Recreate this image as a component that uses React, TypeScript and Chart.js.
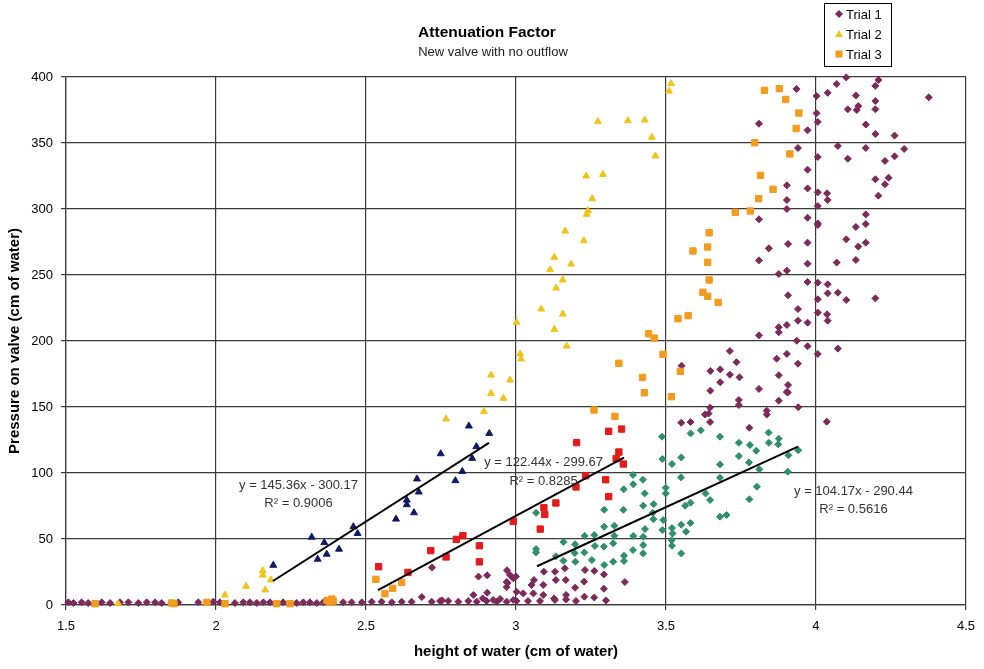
import { useEffect, useRef } from "react";
import { Chart, registerables } from "chart.js";

Chart.register(...registerables);

type Pt = [number, number];

// Trial 1 (purple diamonds) - points not used in the fit
const trial1: Pt[] = [
  [1.508, 2], [1.525, 1.5], [1.552, 2], [1.574, 1.5], [1.619, 2], [1.647, 1.5], [1.68, 2], [1.708, 2],
  [1.741, 1.5], [1.769, 2], [1.797, 2], [1.819, 1.5], [1.874, 2], [1.941, 2], [1.991, 2.5], [2.013, 2],
  [2.063, 1.5], [2.091, 2], [2.113, 2], [2.136, 1.5], [2.158, 2], [2.18, 2], [2.224, 2], [2.269, 1.5],
  [2.291, 2], [2.313, 2], [2.336, 1.5], [2.358, 2], [2.424, 2], [2.452, 2], [2.486, 2], [2.519, 2.5],
  [2.552, 2.5], [2.586, 2], [2.619, 2.5], [2.652, 2.5], [2.686, 6], [2.719, 2.5], [2.747, 3], [2.774, 3],
  [2.808, 2.5], [2.841, 3], [2.869, 2.5], [2.902, 3], [2.936, 2.5], [2.969, 2.5], [3.002, 3],
  [2.72, 28.5], [2.875, 21.5], [2.904, 22.5], [2.97, 26.3], [2.969, 17.4], [2.969, 13.6], [2.858, 7.6],
  [2.904, 9.3], [2.889, 5], [2.924, 3.8], [2.754, 3.5], [2.991, 20.2], [3.0, 21.5], [2.972, 16.7],
  [2.947, 4.6], [3.093, 25.2], [3.06, 18.9], [3.091, 15.2], [3.13, 25.2], [3.133, 18.9], [3.163, 27.8],
  [3.166, 18.9], [3.23, 26.5], [3.261, 25.8], [3.293, 23.2], [3.227, 17.7], [3.197, 13.1], [3.293, 12.3],
  [3.363, 17.4], [3.058, 8.8], [3.091, 7.6], [3.024, 8.8], [3.127, 5], [3.167, 4.2], [3.228, 6.3],
  [3.261, 5.7], [3.002, 10], [2.991, 3.8], [3.052, 15.2], [3.13, 3.8], [3.167, 7.6], [3.04, 3], [3.08, 3],
  [3.2, 3], [3.3, 3.5], [2.98, 22.7],
  [3.647, 149.5], [3.642, 145], [3.63, 144.3], [3.647, 138.6], [3.551, 138.1], [3.582, 138.6],
  [3.743, 155.3], [3.743, 151.5], [3.876, 154.8], [3.941, 149.8], [3.906, 161], [3.836, 147.2],
  [3.836, 144.3], [3.778, 134.3], [4.036, 138.9],
  [3.935, 391], [4.002, 385.6], [4.039, 388], [4.069, 394.7], [4.101, 399.7], [4.208, 397.7], [4.198, 393.3],
  [4.133, 386], [4.106, 375.5], [4.141, 378], [4.136, 375], [4.198, 381.8], [4.198, 375.5], [4.376, 384.6],
  [4.002, 372.5], [4.006, 366], [3.972, 359.6], [3.81, 364.6], [4.166, 364], [4.198, 356.8], [4.262, 355.6],
  [3.94, 346.2], [4.073, 347.7], [4.166, 346.2], [4.294, 345.5], [4.006, 339.4], [4.106, 338.1], [4.23, 336.4],
  [4.262, 339.9], [3.972, 329.8], [4.198, 322.5], [4.242, 323.7], [4.23, 318.7], [4.208, 310.1], [3.903, 317.9],
  [3.972, 315.6], [4.006, 312.6], [4.037, 311.9], [4.039, 306.8], [3.903, 306.8], [3.903, 300], [4.006, 302.3],
  [3.81, 292.2], [3.972, 293.4], [4.006, 289.1], [4.006, 287.9], [4.166, 295.9], [4.133, 286.4], [4.166, 288.6],
  [4.101, 277], [4.141, 271.5], [4.166, 274.5], [3.843, 270.2], [3.907, 273.5], [3.972, 274.5], [3.81, 261.1],
  [4.069, 259.4], [4.133, 261.4], [3.972, 258.6], [3.903, 253.3], [3.876, 250.7], [3.972, 244.7], [4.006, 244.2],
  [4.039, 242.9], [3.907, 234.6], [4.006, 231.6], [4.039, 236.1], [4.073, 236.6], [4.101, 231.1], [4.198, 232.3],
  [3.94, 224.2], [4.006, 221.5], [4.037, 220.2], [4.039, 215.4], [3.94, 215.4], [3.972, 213.9], [3.903, 212.1],
  [3.876, 210.4], [3.876, 206.6], [3.81, 204.3], [3.936, 200.2], [3.972, 196], [4.006, 190.2], [4.073, 194.2],
  [3.903, 190.2], [3.94, 182.8], [3.869, 186.6], [3.713, 192.4], [3.735, 183.9], [3.552, 181.3], [3.648, 177.3],
  [3.681, 178.5], [3.713, 174.5], [3.745, 172.5], [3.681, 168.7], [3.876, 174], [3.907, 166.7], [3.903, 161.4],
  [3.81, 163.7], [3.648, 162.4],
];

// Trial 2 (yellow triangles)
const trial2: Pt[] = [
  [1.674, 1], [2.03, 7.6], [2.1, 14.2], [2.156, 26], [2.156, 22.7], [2.164, 11.4], [2.183, 19],
  [2.767, 140.9], [2.893, 146.5], [2.917, 160.3], [2.958, 156.6], [2.917, 174.2], [2.98, 170.4],
  [3.017, 186.4], [3.014, 190.2], [3.002, 214.2], [3.169, 196.2], [3.128, 208.8], [3.156, 220.4],
  [3.084, 224.2], [3.134, 240.2], [3.156, 246.2], [3.114, 254], [3.184, 258.3], [3.128, 263.4],
  [3.226, 276], [3.164, 283.3], [3.236, 296], [3.24, 298.7], [3.254, 307.8], [3.234, 325], [3.29, 326.2],
  [3.273, 366.2], [3.373, 366.9], [3.429, 367.4], [3.453, 354.3], [3.465, 340.2], [3.51, 389.3], [3.517, 395],
];

// Trial 3 (orange squares)
const trial3: Pt[] = [
  [1.597, 1], [1.852, 1.5], [1.86, 1], [1.969, 2], [2.03, 1], [2.202, 1], [2.247, 1], [2.37, 3.5],
  [2.38, 2], [2.391, 3], [2.386, 4.5],
  [2.533, 19.4], [2.563, 8.6], [2.589, 12.6], [2.619, 17.2],
  [3.26, 147.7], [3.33, 142.9], [3.343, 183.1], [3.422, 172.4], [3.428, 160.8], [3.518, 157.8],
  [3.49, 189.9], [3.548, 177], [3.442, 205.5], [3.461, 202.2], [3.54, 216.9], [3.574, 219.2],
  [3.623, 236.9], [3.639, 233.9], [3.674, 229.2], [3.644, 246.2], [3.639, 259.6], [3.59, 268.2],
  [3.639, 271.2], [3.644, 282], [3.731, 297.5], [3.781, 298.5], [3.809, 307.8], [3.857, 314.9],
  [3.815, 325.5], [3.913, 341.7], [3.796, 350.2], [3.934, 361], [3.943, 372.7], [3.899, 383],
  [3.828, 389.9], [3.878, 391.2],
];

// Points used for each trend line
const trial2Fit: Pt[] = [
  [2.191, 30.1], [2.319, 51.4], [2.339, 34.7], [2.361, 47.3], [2.369, 38.5], [2.41, 42.3], [2.458, 59.3],
  [2.472, 54.2], [2.6, 65.1], [2.636, 79.5], [2.636, 76], [2.66, 69.9], [2.67, 95.5], [2.676, 85.6],
  [2.749, 114.6], [2.798, 94.2], [2.821, 101.2], [2.843, 135.6], [2.868, 120], [2.854, 111.1], [2.911, 130],
];

const trial3Fit: Pt[] = [
  [2.542, 29], [2.64, 24.7], [2.716, 41.2], [2.767, 36.4], [2.801, 49.7], [2.823, 52.5], [2.878, 44.9],
  [2.878, 32.7], [2.991, 63.3], [3.081, 57.5], [3.093, 73.7], [3.096, 68.6], [3.133, 77.3], [3.2, 89.4],
  [3.232, 97.9], [3.202, 123], [3.299, 94.9], [3.309, 82.1], [3.309, 131.6], [3.352, 133.3], [3.343, 115.9],
  [3.334, 110.9], [3.358, 106.8],
];

const trial1Fit: Pt[] = [
  [3.487, 127.5], [3.488, 110.6], [3.52, 106.8], [3.551, 111.8], [3.582, 130], [3.616, 132.3], [3.68, 127.5],
  [3.743, 122.9], [3.78, 121.2], [3.801, 116.9], [3.842, 130.6], [3.843, 122.9], [3.876, 126], [3.874, 121.7],
  [3.908, 113.4], [3.941, 117.2], [3.906, 101], [3.68, 106.5], [3.743, 112.8], [3.777, 108], [3.811, 102.8],
  [3.803, 89.6], [3.778, 80.1], [3.68, 96.4], [3.632, 84.5], [3.647, 79.5], [3.55, 96.7], [3.499, 88.8],
  [3.499, 84.5], [3.39, 98.5], [3.423, 94.9], [3.391, 91.4], [3.359, 87.6], [3.429, 84.5], [3.424, 75.2],
  [3.358, 72.1], [3.294, 72.1], [3.067, 69.8], [3.564, 75.2], [3.582, 77.5], [3.459, 76.4], [3.456, 69.8],
  [3.458, 65], [3.491, 64.3], [3.488, 56.8], [3.52, 58.3], [3.522, 54.2], [3.551, 60.8], [3.567, 55.5],
  [3.582, 62.1], [3.68, 66.9], [3.702, 68.2], [3.43, 57.5], [3.391, 52.3], [3.424, 51.7], [3.424, 45.4],
  [3.424, 39.1], [3.39, 41.6], [3.36, 37.3], [3.36, 33.3], [3.328, 60.1], [3.328, 52.5], [3.324, 46.7],
  [3.294, 59.3], [3.261, 53], [3.293, 44.2], [3.294, 30.3], [3.324, 32.8], [3.229, 52.3], [3.197, 46],
  [3.228, 39.8], [3.196, 39.3], [3.198, 32.8], [3.158, 47.8], [3.158, 33.6], [3.133, 36.9], [3.067, 42.4],
  [3.067, 39.8], [3.263, 44.7], [3.519, 49.1], [3.52, 44.9], [3.551, 39.1], [3.253, 34.1],
];

// Trend lines: slope, intercept, R², x-range
const fitSlopes = [145.36, 122.44, 104.17];
const fitIntercepts = [-300.17, -299.67, -290.44];
const fitR2 = ["0.9006", "0.8285", "0.5616"];
const fitRanges: Pt[] = [[2.19, 2.91], [2.54, 3.36], [3.07, 3.94]];

const legendLabels = ["Trial 1", "Trial 2", "Trial 3"];

const PURPLE = "#7c2a5c";
const YELLOW = "#f0c419";
const ORANGE = "#f29b1d";
const NAVY = "#0d1a66";
const RED = "#e31b1b";
const GREEN = "#2f8f6b";
const FONT = '"Liberation Sans", Arial, sans-serif';

// label centres (data coords) for the equation and R² lines
const eqAnchors: Pt[] = [[2.275, 90.9], [3.092, 108.3], [4.125, 86.4]];
const r2Anchors: Pt[] = [[2.275, 77.3], [3.092, 93.9], [4.125, 72.7]];

const toXY = (pts: Pt[]) => pts.map(([x, y]) => ({ x, y }));

const fmt = (n: number) => Math.abs(n).toFixed(2);

const overlay = {
  id: "overlay",
  afterDraw(chart: any) {
    const { ctx } = chart;
    const sx = chart.scales.x;
    const sy = chart.scales.y;
    ctx.save();
    ctx.fillStyle = "#000";
    ctx.textAlign = "center";
    ctx.textBaseline = "middle";
    ctx.font = `bold 15.5px ${FONT}`;
    ctx.fillText("Attenuation Factor", 487, 33);
    ctx.font = `13px ${FONT}`;
    ctx.fillStyle = "#222";
    ctx.fillText("New valve with no outflow", 493, 52);

    // equations
    ctx.font = `13px ${FONT}`;
    ctx.fillStyle = "#333";
    fitSlopes.forEach((m, i) => {
      const b = fitIntercepts[i];
      const eq = `y = ${m.toFixed(2)}x ${b < 0 ? "-" : "+"} ${fmt(b)}`;
      ctx.fillText(eq, sx.getPixelForValue(eqAnchors[i][0]), sy.getPixelForValue(eqAnchors[i][1]));
      ctx.fillText(`R\u00B2 = ${fitR2[i]}`, sx.getPixelForValue(r2Anchors[i][0]), sy.getPixelForValue(r2Anchors[i][1]));
    });

    // legend
    ctx.textAlign = "left";
    ctx.fillStyle = "#fff";
    ctx.fillRect(824, 3, 68, 64);
    ctx.strokeStyle = "#000";
    ctx.lineWidth = 1;
    ctx.strokeRect(824.5, 3.5, 67, 63);
    const rows = [14, 34, 54];
    const colors = [PURPLE, YELLOW, ORANGE];
    rows.forEach((ry, i) => {
      const mx = 839;
      ctx.fillStyle = colors[i];
      ctx.beginPath();
      if (i === 0) {
        ctx.moveTo(mx, ry - 4);
        ctx.lineTo(mx + 4, ry);
        ctx.lineTo(mx, ry + 4);
        ctx.lineTo(mx - 4, ry);
      } else if (i === 1) {
        ctx.moveTo(mx, ry - 4);
        ctx.lineTo(mx + 4, ry + 3);
        ctx.lineTo(mx - 4, ry + 3);
      } else {
        ctx.rect(mx - 3.5, ry - 3.5, 7, 7);
      }
      ctx.closePath();
      ctx.fill();
      ctx.fillStyle = "#000";
      ctx.font = `13px ${FONT}`;
      ctx.fillText(legendLabels[i], 846, ry + 1);
    });
    ctx.restore();
  },
};

export default function App() {
  const canvasRef = useRef<HTMLCanvasElement>(null);

  useEffect(() => {
    document.body.style.margin = "0";
    if (!canvasRef.current) return;

    const point = (pts: Pt[], label: string, color: string, style: string, radius: number, order: number) => ({
      type: "scatter",
      label,
      data: toXY(pts),
      pointStyle: style,
      pointRadius: radius,
      pointBackgroundColor: color,
      pointBorderColor: color,
      pointBorderWidth: 1,
      showLine: false,
      clip: false,
      order,
    });

    const lines = fitSlopes.map((m, i) => ({
      type: "line",
      label: `fit ${i + 1}`,
      data: fitRanges[i].map((x) => ({ x, y: m * x + fitIntercepts[i] })),
      borderColor: "#000",
      borderWidth: 2,
      pointRadius: 0,
      fill: false,
      order: 0,
    }));

    const chart = new Chart(canvasRef.current, {
      type: "scatter",
      data: {
        datasets: [
          ...lines,
          point(trial2Fit, "Trial 2 fit", NAVY, "triangle", 4, 1),
          point(trial3Fit, "Trial 3 fit", RED, "rect", 4.5, 1),
          point(trial1Fit, "Trial 1 fit", GREEN, "rectRot", 3.5, 1),
          point(trial2, "Trial 2", YELLOW, "triangle", 4, 2),
          point(trial3, "Trial 3", ORANGE, "rect", 4.5, 2),
          point(trial1, "Trial 1", PURPLE, "rectRot", 3.5, 3),
        ] as any,
      },
      options: {
        animation: false,
        responsive: true,
        maintainAspectRatio: false,
        layout: { padding: { top: 77, right: 17, left: 0, bottom: 0 } },
        plugins: {
          legend: { display: false },
          tooltip: { enabled: false },
          title: { display: false },
        },
        scales: {
          x: {
            type: "linear",
            min: 1.5,
            max: 4.5,
            ticks: {
              stepSize: 0.5,
              color: "#000",
              font: { family: FONT, size: 13 },
              padding: 9,
              callback: (v: number) => `${Math.round(v * 10) / 10}`,
            },
            grid: { color: "#3a3a3a", lineWidth: 1.2, tickLength: 5 },
            border: { color: "#3a3a3a", width: 1.2 },
            title: {
              display: true,
              text: "height of water (cm of water)",
              color: "#000",
              font: { family: FONT, size: 15, weight: "bold" },
              padding: { top: 0, bottom: 8 },
            },
            afterFit: (s: any) => {
              s.height = 64;
            },
          },
          y: {
            min: 0,
            max: 400,
            ticks: { stepSize: 50, color: "#000", font: { family: FONT, size: 13 }, padding: 8 },
            grid: { color: "#3a3a3a", lineWidth: 1.2, tickLength: 5 },
            border: { color: "#3a3a3a", width: 1.2 },
            title: {
              display: true,
              text: "Pressure on valve (cm of water)",
              color: "#000",
              font: { family: FONT, size: 15, weight: "bold" },
              padding: { top: 6, bottom: 0 },
            },
            afterFit: (s: any) => {
              s.width = 66;
            },
          },
        },
      } as any,
      plugins: [overlay],
    });

    return () => chart.destroy();
  }, []);

  return (
    <div style={{ width: 984, height: 669, position: "relative", background: "#fff" }}>
      <canvas ref={canvasRef} />
    </div>
  );
}
